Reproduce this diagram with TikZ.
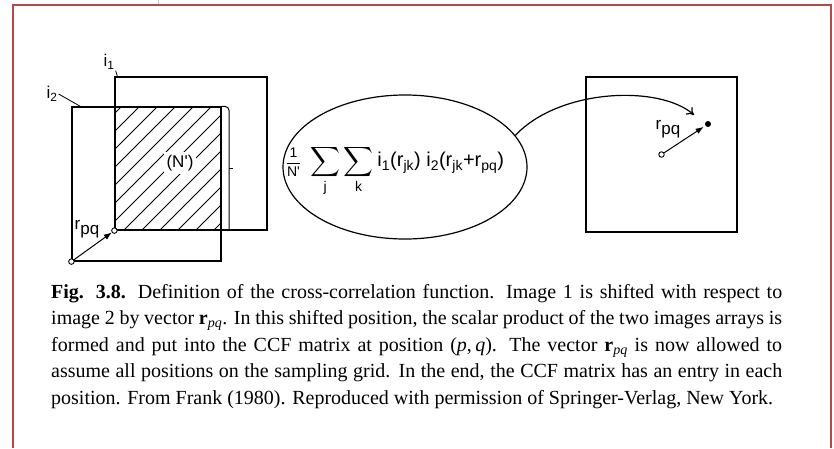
\documentclass[tikz,border=0pt]{standalone}
\usepackage{amsmath}
\usepackage{fontspec}
\usetikzlibrary{shapes,arrows,arrows.meta,positioning}
\newfontfamily\figfont{Liberation Sans}
\newfontfamily\capfont{Liberation Serif}
\definecolor{framered}{RGB}{178,74,74}
\newcommand{\rpq}{r\raisebox{-0.55ex}{pq}}

\begin{document}
\begin{tikzpicture}[x=1pt, y=-1pt, >=latex',
    img/.style={rectangle, draw, line width=1.2pt, inner sep=0pt},
    orig/.style={circle, draw, line width=0.9pt, fill=white, inner sep=0pt, minimum size=5.5pt},
    tip/.style={circle, fill=black, inner sep=0pt, minimum size=6pt},
    lbl/.style={font=\figfont\fontsize{17}{17}\selectfont, inner sep=1pt},
    ar/.style={line width=1pt,-{Latex[length=8pt,width=6pt]}}]
    \useasboundingbox (0,0) rectangle (834,448);
    % frame
    \draw[framered, line width=2pt] (13,448) -- (13,5) -- (831,5) -- (831,448);
    \draw[gray!50, line width=1pt] (158,0) -- (158,4);
    % image 1 and image 2
    \node[img, minimum width=152pt, minimum height=153pt] (imA) at (191,153.5) {};
    \node[img, minimum width=149pt, minimum height=154pt] (imB) at (146.5,184) {};
    \begin{scope}
        \clip (imA.south west) rectangle (imB.north east);
        \foreach \s in {-117,-99,...,105}
            \draw[line width=0.9pt] (115+\s,230) -- ++(140,-140);
    \end{scope}
    \node[lbl, fill=white, inner sep=3pt] (area) at (180,163) {(N')};
    \draw[line width=1pt, rounded corners=4pt] (imB.north east) -| (229,230);
    \draw[line width=1pt] (229,168) -- (233,168);
    \node[lbl] (la) at (109,62) {i\textsubscript{1}};
    \node[lbl] (lb) at (52,94) {i\textsubscript{2}};
    \draw[line width=0.8pt] (la.south east) -- ([xshift=3pt]imA.north west);
    \draw[line width=0.8pt] (lb.east) -- ([xshift=9pt]imB.north west);
    \node[orig] (oA) at (imA.south west) {};
    \node[orig] (oB) at (imB.south west) {};
    \draw[ar] (oB) -- (oA);
    \node[lbl] (rA) at (87,229) {\rpq};
    % scalar product
    \node[ellipse, draw, line width=1.2pt, minimum width=244pt, minimum height=144pt, inner sep=0pt] (ccf) at (405,167) {};
    \node[font=\figfont\fontsize{20}{20}\selectfont] (sumf) at (395,171)
        {{\fontsize{14}{14}\selectfont$\dfrac{\text{1}}{\text{N'}}$}\hspace{9pt}$\displaystyle\sum\limits_{\text{j}}\sum\limits_{\text{k}}$\hspace{4pt}i\textsubscript{1}(r\textsubscript{jk}) i\textsubscript{2}(r\textsubscript{jk}+r\textsubscript{pq})};
    % CCF matrix
    \node[img, minimum width=151pt, minimum height=155pt] (ccfm) at (661.5,154.5) {};
    \node[orig] (oC) at (ccfm.center) {};
    \node[tip] (pq) at (708,124) {};
    \draw[ar, shorten >=2pt] (oC) -- (pq);
    \node[lbl] (rC) at (668,129) {\rpq};
    \coordinate (pqin) at (694,115);
    \draw[line width=1.2pt, -{To[length=7pt,width=10pt]}] (ccf.16) .. controls (560,88) and (660,85) .. (pqin);
    % caption
    \node[anchor=north west, inner sep=0pt, text width=731pt, align=justify,
        font=\capfont\fontsize{20}{26.5}\selectfont] (cap) at (51,284)
        {\hyphenpenalty=10000\relax\exhyphenpenalty=10000\relax
        \textbf{Fig. 3.8.}\hspace{0.6em}Definition of the cross-correlation function. Image 1 is shifted with respect to\linebreak
        image 2 by vector \textbf{r}\textsubscript{\itshape pq}. In this shifted position, the scalar product of the two images arrays is\linebreak
        formed and put into the CCF matrix at position (\textit{p},\,\textit{q}). The vector \textbf{r}\textsubscript{\itshape pq} is now allowed to\linebreak
        assume all positions on the sampling grid. In the end, the CCF matrix has an entry in each\linebreak
        position. From Frank (1980). Reproduced with permission of Springer-Verlag, New York.};
\end{tikzpicture}
\end{document}
